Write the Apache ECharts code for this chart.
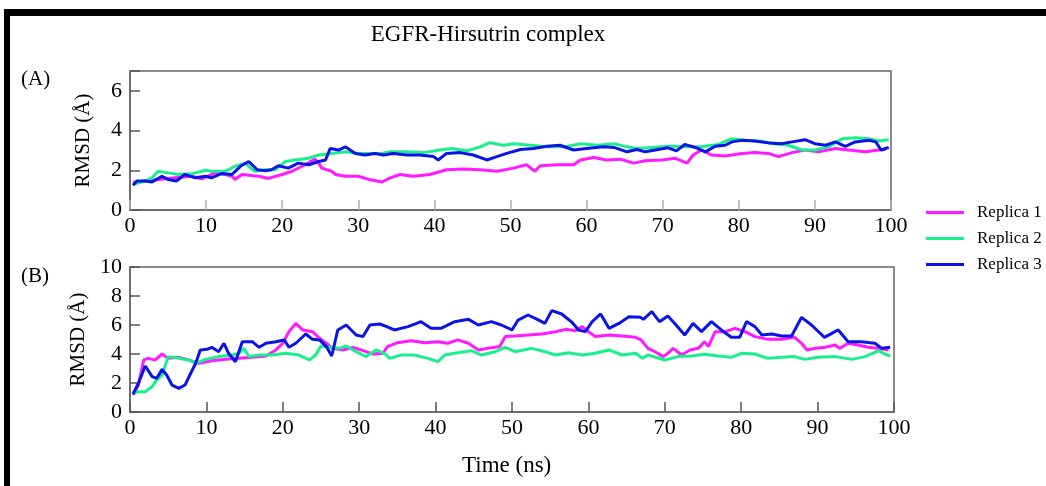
<!DOCTYPE html>
<html>
<head>
<meta charset="utf-8">
<script src="https://cdn.jsdelivr.net/npm/echarts@6/dist/echarts.min.js"></script>
<style>
html,body{margin:0;padding:0;background:#fff;}
#chart{width:1046px;height:486px;}
</style>
</head>
<body>
<div id="chart"></div>
<script>
// ---- Data (time in ns, RMSD in Å) ----
const titleText = 'EGFR-Hirsutrin complex';
const seriesNames = ['Replica 1', 'Replica 2', 'Replica 3'];
const seriesColors = ['#ff1aff', '#19f08c', '#0a14e6'];
const xTicks = [0, 10, 20, 30, 40, 50, 60, 70, 80, 90, 100];

// Panel (A)
const rep1A = [[0.4,1.38],[2,1.46],[3.7,1.54],[5.9,1.62],[8.1,1.7],[9.4,1.57],[11.2,1.87],[12.5,1.79],[13.4,1.7],[13.8,1.54],[14.7,1.79],[16.9,1.7],[18.2,1.59],[20,1.79],[21.3,1.95],[23,2.28],[24.3,2.56],[24.8,2.36],[25.2,2.11],[26.5,1.95],[27,1.79],[28.3,1.7],[30,1.7],[31.4,1.54],[33.1,1.41],[34.2,1.62],[35.5,1.79],[37.2,1.7],[39.4,1.79],[41.6,2.03],[43.8,2.07],[46,2.03],[48.2,1.95],[50.4,2.11],[52.1,2.28],[53.2,1.95],[53.9,2.23],[56.1,2.28],[58.3,2.28],[59.2,2.52],[60.9,2.64],[62.7,2.52],[64.4,2.56],[66.2,2.36],[67.7,2.48],[69.9,2.52],[71.6,2.61],[73.2,2.36],[74,2.77],[75.1,3.02],[76.4,2.77],[78.2,2.72],[80.4,2.85],[82.1,2.89],[83.9,2.85],[85.2,2.69],[87,2.89],[88.7,3.02],[90.5,2.93],[92.7,3.1],[94.4,3.02],[96.6,2.93],[98.4,3.02],[99.3,3.05]];
const rep2A = [[0.4,1.3],[2,1.46],[2.9,1.62],[3.7,1.95],[5,1.87],[6.4,1.79],[8.1,1.82],[9.9,2.0],[10.7,1.95],[12.5,1.95],[13.8,2.2],[15.1,2.36],[16.4,1.95],[17.8,2.03],[19.1,2.03],[20.4,2.44],[21.7,2.52],[23.5,2.61],[24.8,2.77],[26.5,2.85],[28.3,2.93],[30,2.85],[31.8,2.85],[33.1,2.85],[34.2,2.93],[36.4,2.93],[38.6,2.89],[40.7,3.02],[42.3,3.1],[44.3,2.98],[46,3.18],[47.3,3.39],[49.1,3.26],[50.4,3.34],[52.6,3.26],[54.8,3.18],[57,3.18],[59.2,3.34],[61.4,3.26],[63.6,3.34],[65.3,3.18],[66.6,3.1],[68.6,3.15],[70.7,3.21],[72.9,3.18],[75.1,3.18],[77.3,3.3],[79.1,3.59],[80.8,3.51],[83,3.46],[84.8,3.34],[86.5,3.26],[88.3,3.02],[90,3.02],[91.8,3.18],[93.6,3.59],[95.3,3.64],[97.1,3.59],[98.4,3.48],[99.7,3.54]];
const rep3A = [[0.4,1.25],[0.9,1.46],[2,1.46],[2.9,1.41],[4.2,1.7],[5,1.54],[6.1,1.46],[7.2,1.79],[8.6,1.62],[9.9,1.7],[10.7,1.62],[12.1,1.84],[13.4,1.79],[14.5,2.2],[15.6,2.44],[16.7,2.03],[17.8,1.98],[18.6,2.03],[19.5,2.23],[20.8,2.11],[22.1,2.36],[23.5,2.28],[24.8,2.44],[25.7,2.52],[26.3,3.1],[27.4,3.02],[28.3,3.18],[29.6,2.85],[30.9,2.77],[32.2,2.85],[33.3,2.77],[34.6,2.85],[36.4,2.77],[38.1,2.77],[39.9,2.69],[40.5,2.52],[41.6,2.85],[43.4,2.89],[45.1,2.77],[46.9,2.52],[48.2,2.69],[49.5,2.85],[51.3,3.05],[53,3.1],[54.8,3.21],[56.5,3.26],[58.3,3.02],[60,3.1],[62.2,3.18],[63.6,3.15],[65.3,2.93],[66.6,3.05],[67.7,2.93],[69.4,3.05],[70.7,3.13],[71.8,2.98],[72.9,3.3],[74.3,3.15],[75.6,2.93],[76.9,3.21],[78.2,3.26],[79.1,3.43],[80.4,3.51],[82.1,3.48],[83.9,3.38],[85.6,3.34],[87,3.43],[88.7,3.54],[90,3.34],[91.4,3.26],[92.7,3.43],[94,3.21],[95.3,3.43],[97.1,3.51],[98,3.43],[98.7,3.02],[99.7,3.15]];

// Panel (B)
const rep1B = [[0.4,1.17],[1.1,1.86],[1.8,3.59],[2.4,3.7],[3.3,3.59],[4.2,4.0],[5,3.7],[6.4,3.77],[7.7,3.59],[9,3.36],[10.7,3.54],[12.5,3.63],[14.3,3.7],[16,3.77],[17.8,3.86],[19.1,4.28],[20,4.74],[20.8,5.54],[21.7,6.11],[22.6,5.66],[23.9,5.54],[24.8,5.08],[25.7,4.74],[26.5,4.39],[27.9,4.28],[29.2,4.46],[30.5,4.23],[31.8,4.0],[33.1,4.05],[33.7,4.51],[35,4.78],[36.8,4.92],[38.6,4.78],[40.3,4.85],[41.6,4.74],[42.9,4.97],[44.3,4.74],[45.6,4.28],[46.9,4.39],[48.4,4.51],[49.1,5.2],[50.4,5.24],[52.1,5.31],[53.9,5.38],[55.7,5.54],[57,5.7],[58.3,5.61],[59.2,5.89],[60,5.54],[60.9,5.2],[62.7,5.31],[64.4,5.24],[66.2,5.15],[66.9,4.97],[67.8,4.39],[68.7,4.16],[69.8,3.82],[70.4,4.05],[71.1,4.39],[72.2,3.93],[73.3,4.28],[74.4,4.39],[75.2,4.85],[75.7,4.51],[76.6,5.54],[77.9,5.54],[79.2,5.77],[80.5,5.54],[81.8,5.2],[83.5,5.01],[85.3,5.01],[87,5.15],[87.9,4.74],[88.6,4.28],[89.7,4.39],[91,4.46],[92.3,4.62],[92.9,4.39],[94,4.74],[95.3,4.62],[96.6,4.46],[97.9,4.39],[99.3,4.28]];
const rep2B = [[0.4,1.29],[1.1,1.4],[2,1.4],[2.9,1.75],[3.5,2.21],[4.2,2.55],[5,3.82],[6.4,3.7],[7.7,3.59],[8.6,3.36],[9.9,3.63],[11.6,3.82],[13.4,3.93],[14.3,4.05],[14.9,4.39],[15.6,3.82],[16.9,3.93],[18.6,3.93],[20.4,4.05],[22.1,3.93],[23.5,3.59],[24.3,3.93],[25,4.55],[26.1,4.46],[27.4,4.39],[28.3,4.55],[29.6,4.16],[30.9,3.82],[32.2,4.28],[33.3,4.05],[34,3.7],[35.5,3.93],[37.2,3.93],[39,3.7],[40.3,3.47],[41.2,3.93],[42.9,4.09],[44.7,4.23],[46,3.93],[47.8,4.16],[49.1,4.46],[50.4,4.16],[52.6,4.39],[54.3,4.16],[55.7,3.93],[57.4,4.09],[59.2,3.93],[60.9,4.05],[62.7,4.28],[64.4,3.93],[66.2,4.05],[67.1,3.7],[67.8,3.93],[70,3.59],[71.7,3.82],[73.5,3.86],[75.2,3.98],[77,3.86],[78.7,3.77],[80.1,4.05],[81.8,4.0],[83.5,3.7],[85.3,3.77],[87,3.82],[88.3,3.63],[90.1,3.77],[92.3,3.82],[94.5,3.63],[96.2,3.82],[98,4.23],[98.8,4.0],[99.5,3.86]];
const rep3B = [[0.4,1.24],[1.1,1.98],[2,3.17],[2.9,2.44],[3.5,2.32],[4.2,2.94],[4.8,2.55],[5.5,1.86],[6.4,1.63],[7.2,1.86],[7.9,2.62],[8.6,3.36],[9.2,4.28],[10.1,4.32],[10.7,4.46],[11.6,4.16],[12.3,4.74],[12.9,4.05],[13.8,3.47],[14.7,4.85],[16,4.85],[16.9,4.46],[17.8,4.74],[19.1,4.85],[20.2,4.97],[20.8,4.46],[21.7,4.74],[23,5.38],[23.9,5.01],[24.8,4.97],[25.7,4.51],[26.4,3.86],[27.2,5.66],[28.3,6.0],[29.6,5.31],[30.5,5.2],[31.4,6.0],[32.7,6.07],[33.6,5.89],[34.6,5.66],[36.4,5.89],[38.1,6.23],[39.4,5.77],[40.7,5.77],[42.5,6.23],[44.3,6.39],[45.6,6.0],[47.3,6.23],[48.6,6.0],[50,5.66],[50.8,6.34],[52.1,6.69],[53.5,6.34],[54.3,6.11],[55.2,6.99],[56.5,6.76],[57.9,6.16],[58.7,5.66],[59.6,5.54],[60.5,6.23],[61.6,6.76],[62.7,5.77],[64,6.11],[65.3,6.57],[66.8,6.53],[67.2,6.39],[68.3,6.92],[69.3,6.23],[70.4,6.62],[71.3,6.11],[72.6,5.31],[73.7,6.11],[74.8,5.54],[76.1,6.23],[77.4,5.66],[78.7,5.15],[79.8,5.15],[80.7,6.23],[81.8,5.89],[82.7,5.31],[84,5.38],[85.3,5.24],[86.6,5.24],[87.9,6.53],[89.2,6.0],[90.9,5.15],[92.7,5.66],[94,4.85],[95.7,4.85],[97.5,4.74],[98.4,4.39],[99.5,4.46]];

// ---- Chart ----
const serif = '"Liberation Serif", "DejaVu Serif", serif';
const chart = echarts.init(document.getElementById('chart'));

function xAxisCfg(gridIndex, tickColor) {
  return {
    type: 'value', gridIndex: gridIndex, min: 0, max: 100, interval: 10,
    axisLine: { show: true, lineStyle: { color: '#666', width: 1.5 } },
    axisTick: { show: true, inside: true, length: 10, lineStyle: { color: tickColor, width: 1.5 } },
    axisLabel: { show: true, color: '#000', fontFamily: serif, fontSize: 22, margin: 5,
      formatter: function (v) { return xTicks.indexOf(v) >= 0 ? String(v) : ''; } },
    splitLine: { show: false }
  };
}
function yAxisCfg(gridIndex, max) {
  return {
    type: 'value', gridIndex: gridIndex, min: 0, max: max, interval: 2,
    name: 'RMSD (Å)', nameLocation: 'middle', nameGap: 36, nameRotate: 90,
    nameTextStyle: { color: '#000', fontFamily: serif, fontSize: 21 },
    axisLine: { show: true, lineStyle: { color: '#666', width: 1.5 } },
    axisTick: { show: true, inside: true, length: 10, lineStyle: { color: '#555', width: 1.5 } },
    axisLabel: { show: true, color: '#000', fontFamily: serif, fontSize: 22, margin: 8,
      formatter: function (v) { return v % 2 === 0 ? String(v) : ''; } },
    splitLine: { show: false }
  };
}
function lineSeries(name, idx, data, axisIndex) {
  return {
    name: name, type: 'line', xAxisIndex: axisIndex, yAxisIndex: axisIndex,
    data: data, showSymbol: false, symbol: 'none', smooth: false,
    lineStyle: { color: seriesColors[idx], width: 3 },
    itemStyle: { color: seriesColors[idx] },
    z: 3 + idx, silent: true, animation: false
  };
}

const option = {
  backgroundColor: '#fff',
  animation: false,
  title: {
    text: titleText, left: 483, top: 18, textAlign: 'center',
    textStyle: { color: '#000', fontFamily: serif, fontSize: 23, fontWeight: 'normal' }
  },
  legend: {
    data: seriesNames, orient: 'vertical', left: 921, top: 199,
    itemWidth: 38, itemHeight: 3, itemGap: 9, icon: 'rect',
    textStyle: { color: '#000', fontFamily: serif, fontSize: 17, lineHeight: 17, padding: [0, 0, 0, 8] },
    selectedMode: false
  },
  grid: [
    { left: 130, top: 71, width: 761, height: 139, show: true, borderColor: '#666', borderWidth: 1.5, backgroundColor: 'transparent' },
    { left: 130, top: 267, width: 764, height: 145, show: true, borderColor: '#666', borderWidth: 1.5, backgroundColor: 'transparent' }
  ],
  xAxis: [xAxisCfg(0, '#b0b0b0'), xAxisCfg(1, '#555')],
  yAxis: [yAxisCfg(0, 7), yAxisCfg(1, 10)],
  series: [
    lineSeries(seriesNames[0], 0, rep1A, 0),
    lineSeries(seriesNames[1], 1, rep2A, 0),
    lineSeries(seriesNames[2], 2, rep3A, 0),
    lineSeries(seriesNames[0], 0, rep1B, 1),
    lineSeries(seriesNames[1], 1, rep2B, 1),
    lineSeries(seriesNames[2], 2, rep3B, 1)
  ],
  graphic: [
    { type: 'rect', shape: { x: 4, y: 9, width: 1042, height: 7 }, style: { fill: '#000' }, silent: true },
    { type: 'rect', shape: { x: 4, y: 9, width: 6, height: 477 }, style: { fill: '#000' }, silent: true },
    { type: 'text', left: 21, top: 69, style: { text: '(A)', fill: '#000', font: '21px ' + serif }, silent: true },
    { type: 'text', left: 21, top: 266, style: { text: '(B)', fill: '#000', font: '21px ' + serif }, silent: true },
    { type: 'text', left: 462, top: 454, style: { text: 'Time (ns)', fill: '#000', font: '23px ' + serif }, silent: true }
  ]
};
chart.setOption(option);
</script>
</body>
</html>
